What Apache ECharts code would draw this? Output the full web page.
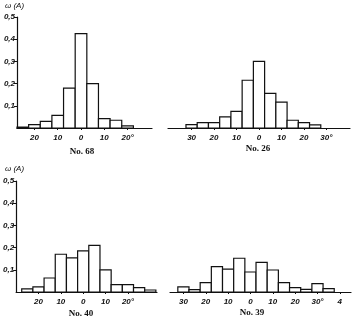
<!DOCTYPE html>
<html><head><meta charset="utf-8">
<script src="https://cdn.jsdelivr.net/npm/echarts@6/dist/echarts.min.js"></script>
<style>html,body{margin:0;padding:0;background:#fff}#c{width:356px;height:326px}</style>
</head><body><div id="c"></div>
<script>
// bin centers (degrees) and frequencies ω(A)
var binsNo68 = [-25,-20,-15,-10,-5,0,5,10,15,20];
var valsNo68 = [0.004,0.015,0.03,0.057,0.18,0.425,0.2,0.042,0.035,0.01];
var binsNo26 = [-30,-25,-20,-15,-10,-5,0,5,10,15,20,25];
var valsNo26 = [0.015,0.024,0.024,0.05,0.075,0.215,0.30,0.156,0.117,0.035,0.024,0.014];
var binsNo40 = [-25,-20,-15,-10,-5,0,5,10,15,20,25,30];
var valsNo40 = [0.014,0.023,0.063,0.17,0.154,0.185,0.21,0.1,0.033,0.033,0.02,0.009];
var binsNo39 = [-30,-25,-20,-15,-10,-5,0,5,10,15,20,25,30,35];
var valsNo39 = [0.023,0.011,0.042,0.114,0.103,0.152,0.09,0.133,0.099,0.042,0.02,0.012,0.038,0.015];
var binWidth = 5;
// tick positions and labels
var ticksNo68 = [-20,-10,0,10,20];
var labelsNo68 = ['20','10','0','10','20°'];
var ticksNo26 = [-30,-20,-10,0,10,20,30];
var labelsNo26 = ['30','20','10','0','10','20','30°'];
var ticksNo40 = [-20,-10,0,10,20];
var labelsNo40 = ['20','10','0','10','20°'];
var ticksNo39 = [-30,-20,-10,0,10,20,30,40];
var labelsNo39 = ['30','20','10','0','10','20','30°','4'];
var yTicks = [0.1,0.2,0.3,0.4,0.5];
var yLabel = 'ω (A)';
var titles = ['No. 68','No. 26','No. 40','No. 39'];

var panels = [
  {bins:binsNo68, vals:valsNo68, ticks:ticksNo68, labels:labelsNo68, grid:{left:17,top:17,width:135,height:111}, xmin:-27.5, xmax:30.5, yaxis:true},
  {bins:binsNo26, vals:valsNo26, ticks:ticksNo26, labels:labelsNo26, grid:{left:168,top:17,width:182,height:111}, xmin:-40.5, xmax:40.5, yaxis:false},
  {bins:binsNo40, vals:valsNo40, ticks:ticksNo40, labels:labelsNo40, grid:{left:16,top:181,width:141,height:111}, xmin:-30, xmax:33, yaxis:true},
  {bins:binsNo39, vals:valsNo39, ticks:ticksNo39, labels:labelsNo39, grid:{left:170,top:181,width:181,height:111}, xmin:-36, xmax:45, yaxis:false}
];
var titlePos = [[82,152],[258,149],[81,314],[252,313]];
var axisFont = {fontFamily:'Liberation Sans', fontStyle:'italic', fontWeight:'bold', fontSize:8, color:'#111'};

var option = {backgroundColor:'#fff', animation:false, grid:[], xAxis:[], yAxis:[], series:[], graphic:[]};
panels.forEach(function(p,i){
  option.grid.push(p.grid);
  var tmap = {}; p.ticks.forEach(function(t,k){tmap[t]=p.labels[k];});
  option.xAxis.push({type:'value', gridIndex:i, min:p.xmin, max:p.xmax,
    axisLine:{show:true, onZero:false, lineStyle:{color:'#111', width:1.2}},
    axisTick:{show:true, customValues:p.ticks, length:2, lineStyle:{color:'#111'}},
    axisLabel:Object.assign({show:true, customValues:p.ticks, margin:6, formatter:function(v){return tmap[v]!==undefined?tmap[v]:'';}}, axisFont),
    splitLine:{show:false}});
  option.yAxis.push({type:'value', gridIndex:i, min:0, max:0.5, interval:0.1, show:p.yaxis,
    axisLine:{show:p.yaxis, onZero:false, lineStyle:{color:'#111', width:1.2}},
    axisTick:{show:p.yaxis, length:3, customValues:yTicks, lineStyle:{color:'#111'}},
    axisLabel:Object.assign({show:p.yaxis, margin:2, customValues:yTicks, formatter:function(v){return v===0?'':v.toFixed(1).replace('.',',');}}, axisFont),
    splitLine:{show:false}});
  option.series.push({type:'custom', xAxisIndex:i, yAxisIndex:i,
    data:p.bins.map(function(b,k){return [b,p.vals[k]];}),
    renderItem:function(params, api){
      var c = api.value(0), v = api.value(1);
      var a = api.coord([c-binWidth/2, v]);
      var b = api.coord([c+binWidth/2, 0]);
      return {type:'rect', shape:{x:a[0], y:a[1], width:b[0]-a[0], height:b[1]-a[1]},
        style:{fill:'#fff', stroke:'#111', lineWidth:1.2}};
    }});
  option.graphic.push({type:'text', x:titlePos[i][0], y:titlePos[i][1],
    style:{text:titles[i], textAlign:'center', textVerticalAlign:'middle', fontFamily:'Liberation Serif', fontWeight:'bold', fontSize:9, fill:'#111'}});
});
option.graphic.push({type:'text', x:5, y:6, style:{text:yLabel, textVerticalAlign:'middle', fontFamily:'Liberation Sans', fontStyle:'italic', fontSize:8, fill:'#111'}});
option.graphic.push({type:'text', x:5, y:169, style:{text:yLabel, textVerticalAlign:'middle', fontFamily:'Liberation Sans', fontStyle:'italic', fontSize:8, fill:'#111'}});

var chart = echarts.init(document.getElementById('c'), null, {renderer:'canvas'});
chart.setOption(option);
</script></body></html>
